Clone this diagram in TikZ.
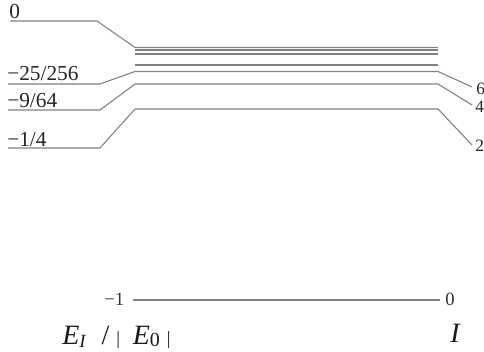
\documentclass[tikz,border=0pt]{standalone}
\usepackage{fontspec}
\setmainfont{Liberation Serif}
\begin{document}
\begin{tikzpicture}[x=0.75pt,y=-0.75pt,
  lvl/.style={draw=black!50,line width=0.8pt},
  lbl/.style={text=black!85,inner sep=0pt,anchor=base west,font=\fontsize{16}{16}\selectfont},
  rlb/.style={text=black!85,inner sep=0pt,anchor=base west,font=\fontsize{13}{13}\selectfont},
  sml/.style={text=black!80,inner sep=0pt,anchor=base west,font=\fontsize{14}{14}\selectfont},
  big/.style={text=black!90,inner sep=0pt,anchor=base west,font=\fontsize{21}{21}\selectfont}]
\useasboundingbox (0,0) rectangle (484,351);
% left labels
\node[lbl] (l0) at (9,18.5) {0};
\node[lbl] (l1) at (7,80.5) {−25/256};
\node[lbl] (l2) at (7,107.5) {−9/64};
\node[lbl] (l3) at (7,146.5) {−1/4};
% right labels
\node[rlb] (r6) at (476,94) {6};
\node[rlb] (r4) at (475,112) {4};
\node[rlb] (r2) at (475,151) {2};
% coordinates
\coordinate (a0) at (10,21);  \coordinate (b0) at (97,21);  \coordinate (c0) at (135,47.5); \coordinate (d0) at (438,47.5);
\coordinate (a1) at (8,84);   \coordinate (b1) at (100,84); \coordinate (c1) at (135,71.5); \coordinate (d1) at (438,71.5); \coordinate (e1) at (472,87);
\coordinate (a2) at (8,110);  \coordinate (b2) at (100,110);\coordinate (c2) at (135,84);   \coordinate (d2) at (438,84);   \coordinate (e2) at (472,105);
\coordinate (a3) at (8,148);  \coordinate (b3) at (100,148);\coordinate (c3) at (135,109);  \coordinate (d3) at (438,109);  \coordinate (e3) at (472,145);
\coordinate (m1a) at (135,50); \coordinate (m1b) at (438,50);
\coordinate (m2a) at (135,54); \coordinate (m2b) at (438,54);
\coordinate (m3a) at (135,65); \coordinate (m3b) at (438,65);
% levels
\draw[lvl] (a0) -- (b0) -- (c0) -- (d0);
\draw[lvl,line width=1.3pt] (c0) -- (d0);
\draw[lvl] (m1a) -- (m1b);
\draw[lvl] (m2a) -- (m2b);
\draw[lvl] (m3a) -- (m3b);
\draw[lvl] (a1) -- (b1) -- (c1) -- (d1) -- (e1);
\draw[lvl] (a2) -- (b2) -- (c2) -- (d2) -- (e2);
\draw[lvl] (a3) -- (b3) -- (c3) -- (d3) -- (e3);
% ground
\node[sml] (g) at (104,305) {−1};
\node[sml] (gi) at (445,305) {0};
\coordinate (ga) at (133,300); \coordinate (gb) at (440,300);
\draw[lvl] (ga) -- (gb);
% axis labels
\node[big] (ey) at (62,344) {\textit{E}\raisebox{-0.25ex}{\fontsize{14}{14}\selectfont\textit{I}}\hspace{0.55em}/\hspace{0.25em}{\fontsize{14}{14}\selectfont|}\hspace{0.45em}\textit{E}\raisebox{-0.2ex}{\fontsize{15}{15}\selectfont 0}\hspace{0.25em}{\fontsize{14}{14}\selectfont|}};
\node[big] (ix) at (450,342) {\textit{I}};
\end{tikzpicture}
\end{document}
